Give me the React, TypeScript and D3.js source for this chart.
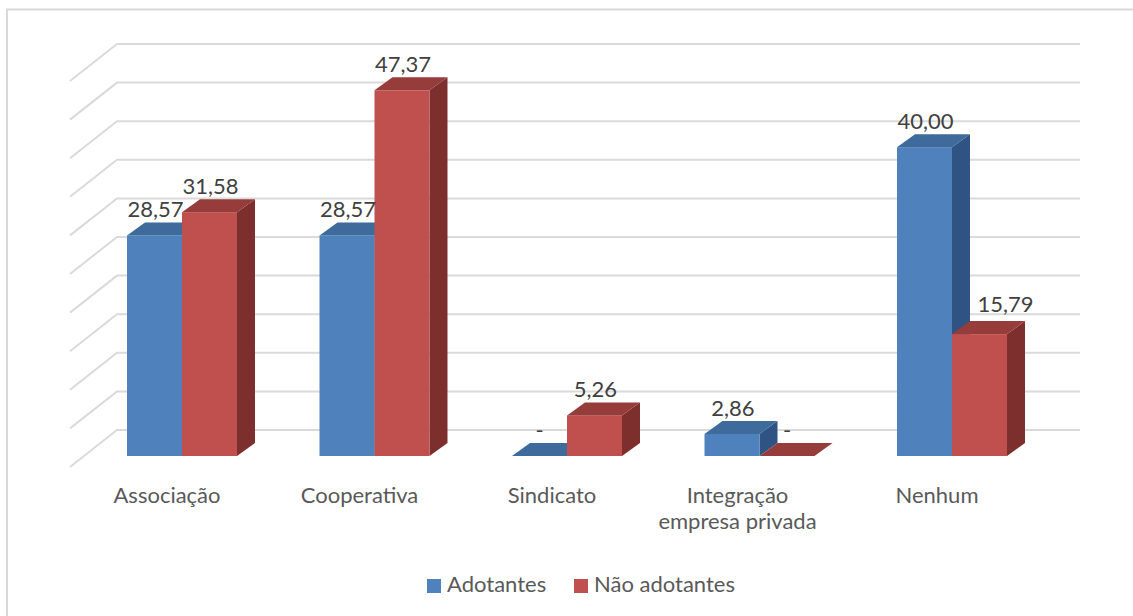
import React from "react";
import * as d3 from "d3";

const categories: string[][] = [
  ["Associação"],
  ["Cooperativa"],
  ["Sindicato"],
  ["Integração", "empresa privada"],
  ["Nenhum"],
];
const seriesNames = ["Adotantes", "Não adotantes"];
const adotantes = [28.57, 28.57, 0, 2.86, 40.0];
const naoAdotantes = [31.58, 47.37, 5.26, 0, 15.79];
const yTicks = [0, 5, 10, 15, 20, 25, 30, 35, 40, 45, 50];

const W = 1133;
const H = 616;
const FONT = "Lato, Carlito, Calibri, sans-serif";
const colors = [
  { front: "#4F81BD", top: "#3E6A9C", side: "#2F5382" },
  { front: "#C0504D", top: "#963C3A", side: "#7D2F2D" },
];
const DX = 18; // bar depth
const DY = 13;
const fmt = (v: number) => (v === 0 ? "-" : v.toFixed(2).replace(".", ","));
// label nudges for overlapping labels [category][series]
const labelNudge: Record<string, { dx: number; dy: number }> = {
  "4-1": { dx: 25, dy: -4 },
};
const catNudge: Record<number, number> = { 3: -7 };

export default function App() {
  const step = 192.5;
  const inner = 110;
  const p = 1 - inner / step;
  const x0 = 127 - (step * p) / 2;
  const keys = categories.map((c) => c.join(" "));
  const x = d3
    .scaleBand<string>()
    .domain(keys)
    .range([x0, x0 + step * keys.length])
    .paddingInner(p)
    .paddingOuter(p / 2);
  const xs = d3.scaleBand<string>().domain(seriesNames).range([0, x.bandwidth()]);
  const y = d3.scaleLinear().domain([0, 50]).range([456, 70]);
  const wallDy = -26;
  const wallLeft = 117;
  const wallRight = 1080;
  const sideDx = -47;
  const sideDy = 37;

  const data = [adotantes, naoAdotantes];

  const bars: React.ReactNode[] = [];
  const labels: React.ReactNode[] = [];
  keys.forEach((k, ci) => {
    seriesNames.forEach((s, si) => {
      const v = data[si][ci];
      const bx = (x(k) as number) + (xs(s) as number);
      const bw = xs.bandwidth();
      const yt = y(v);
      const yb = y(0);
      const c = colors[si];
      const topPts = [
        [bx, yt],
        [bx + DX, yt - DY],
        [bx + bw + DX, yt - DY],
        [bx + bw, yt],
      ];
      const sidePts = [
        [bx + bw, yt],
        [bx + bw + DX, yt - DY],
        [bx + bw + DX, yb - DY],
        [bx + bw, yb],
      ];
      bars.push(
        <g key={`b-${ci}-${si}`}>
          {v > 0 && (
            <polygon points={sidePts.map((q) => q.join(",")).join(" ")} fill={c.side} />
          )}
          {v > 0 && <rect x={bx} y={yt} width={bw} height={yb - yt} fill={c.front} />}
          <polygon points={topPts.map((q) => q.join(",")).join(" ")} fill={c.top} />
        </g>
      );
      const n = labelNudge[`${ci}-${si}`] || { dx: 0, dy: 0 };
      labels.push(
        <text
          key={`l-${ci}-${si}`}
          x={bx + bw / 2 + (v > 0 ? 1 : 0) + n.dx}
          y={yt - 18 + n.dy}
          textAnchor="middle"
          fontSize={22}
          fill="#404040"
          fontFamily={FONT}
        >
          {fmt(v)}
        </text>
      );
    });
  });

  return (
    <svg
      width={W}
      height={H}
      style={{ position: "absolute", left: 0, top: 0, background: "#fff" }}
    >
      <rect x={0} y={0} width={W} height={H} fill="#fff" />
      <rect
        x={7}
        y={9.5}
        width={W + 20}
        height={H + 20}
        fill="#fff"
        stroke="#D9D9D9"
        strokeWidth={2}
      />
      <g stroke="#DADADA" strokeWidth={2} fill="none">
        {yTicks.map((t) => {
          const by = y(t) + wallDy;
          return (
            <polyline
              key={t}
              points={`${wallLeft + sideDx},${by + sideDy} ${wallLeft},${by} ${wallRight},${by}`}
            />
          );
        })}
      </g>
      {bars}
      {labels}
      {categories.map((lines, ci) => {
        const cx = (x(keys[ci]) as number) + x.bandwidth() / 2 - 15 + (catNudge[ci] || 0);
        return (
          <text
            key={`c-${ci}`}
            x={cx}
            y={503}
            textAnchor="middle"
            fontSize={22}
            fill="#595959"
            fontFamily={FONT}
          >
            {lines.map((ln, li) => (
              <tspan key={li} x={cx} dy={li === 0 ? 0 : 26}>
                {ln}
              </tspan>
            ))}
          </text>
        );
      })}
      <g fontFamily={FONT} fontSize={22} fill="#595959">
        <rect x={427} y={579} width={14} height={14} fill={colors[0].front} />
        <text x={447} y={592}>
          {seriesNames[0]}
        </text>
        <rect x={574} y={579} width={14} height={14} fill={colors[1].front} />
        <text x={594} y={592}>
          {seriesNames[1]}
        </text>
      </g>
    </svg>
  );
}
